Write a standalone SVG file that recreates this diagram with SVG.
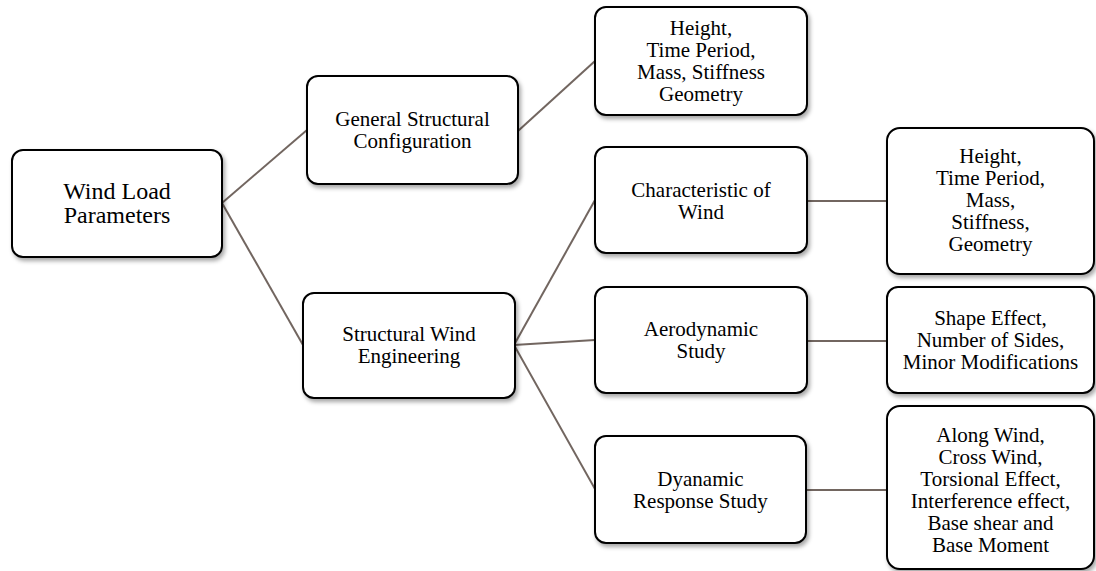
<svg xmlns="http://www.w3.org/2000/svg" width="1096" height="571" viewBox="0 0 1096 571">
<defs>
<filter id="sh" x="-10%" y="-10%" width="125%" height="130%">
<feDropShadow dx="2" dy="3" stdDeviation="2" flood-color="#000" flood-opacity="0.35"/>
</filter>
</defs>
<style>
.box{fill:#fff;stroke:#000;stroke-width:2;filter:url(#sh)}
.t{font-family:'Liberation Serif','Tinos','DejaVu Serif',serif;font-size:21px;fill:#000;text-anchor:middle}
.big{font-size:24px}
.c{stroke:#726660;stroke-width:2;fill:none}
</style>
<rect width="1096" height="571" fill="#fff"/>
<g id="connectors">
<line class="c" x1="222" y1="203" x2="307" y2="130"/>
<line class="c" x1="222" y1="203" x2="303" y2="345"/>
<line class="c" x1="518" y1="131" x2="595" y2="61"/>
<line class="c" x1="514" y1="345" x2="595" y2="200"/>
<line class="c" x1="514" y1="345" x2="595" y2="340"/>
<line class="c" x1="514" y1="345" x2="595" y2="489"/>
<line class="c" x1="807" y1="201" x2="887" y2="201"/>
<line class="c" x1="807" y1="341" x2="887" y2="341"/>
<line class="c" x1="806" y1="490" x2="887" y2="490"/>
</g>
<g font-family="Liberation Serif, Tinos, DejaVu Serif, serif">
<g id="n-wind-load">
<rect class="box" x="12" y="150" width="210" height="107" rx="11"/>
<text class="t big" x="117" y="199">Wind Load</text>
<text class="t big" x="117" y="223">Parameters</text>
</g>
<g id="n-general">
<rect class="box" x="307" y="76" width="211" height="108" rx="11"/>
<text class="t" x="412.5" y="126">General Structural</text>
<text class="t" x="412.5" y="148">Configuration</text>
</g>
<g id="n-general-params">
<rect class="box" x="595" y="7" width="212" height="108" rx="11"/>
<text class="t" x="701" y="35">Height,</text>
<text class="t" x="701" y="57">Time Period,</text>
<text class="t" x="701" y="79">Mass, Stiffness</text>
<text class="t" x="701" y="101">Geometry</text>
</g>
<g id="n-swe">
<rect class="box" x="303" y="293" width="212" height="105" rx="11"/>
<text class="t" x="409" y="341">Structural Wind</text>
<text class="t" x="409" y="363">Engineering</text>
</g>
<g id="n-char">
<rect class="box" x="595" y="147" width="212" height="106" rx="11"/>
<text class="t" x="701" y="197">Characteristic of</text>
<text class="t" x="701" y="219">Wind</text>
</g>
<g id="n-char-params">
<rect class="box" x="887" y="128" width="207" height="146" rx="13"/>
<text class="t" x="990.5" y="163">Height,</text>
<text class="t" x="990.5" y="185">Time Period,</text>
<text class="t" x="990.5" y="207">Mass,</text>
<text class="t" x="990.5" y="229">Stiffness,</text>
<text class="t" x="990.5" y="251">Geometry</text>
</g>
<g id="n-aero">
<rect class="box" x="595" y="287" width="212" height="106" rx="11"/>
<text class="t" x="701" y="336">Aerodynamic</text>
<text class="t" x="701" y="358">Study</text>
</g>
<g id="n-aero-params">
<rect class="box" x="887" y="287" width="207" height="106" rx="11"/>
<text class="t" x="990.5" y="325">Shape Effect,</text>
<text class="t" x="990.5" y="347">Number of Sides,</text>
<text class="t" x="990.5" y="369">Minor Modifications</text>
</g>
<g id="n-dyn">
<rect class="box" x="595" y="436" width="211" height="107" rx="11"/>
<text class="t" x="700.5" y="486">Dyanamic</text>
<text class="t" x="700.5" y="508">Response Study</text>
</g>
<g id="n-dyn-params">
<rect class="box" x="887" y="406" width="207" height="163" rx="13"/>
<text class="t" x="990.5" y="442">Along Wind,</text>
<text class="t" x="990.5" y="464">Cross Wind,</text>
<text class="t" x="990.5" y="486">Torsional Effect,</text>
<text class="t" x="990.5" y="508">Interference effect,</text>
<text class="t" x="990.5" y="530">Base shear and</text>
<text class="t" x="990.5" y="552">Base Moment</text>
</g>
</g>
</svg>
